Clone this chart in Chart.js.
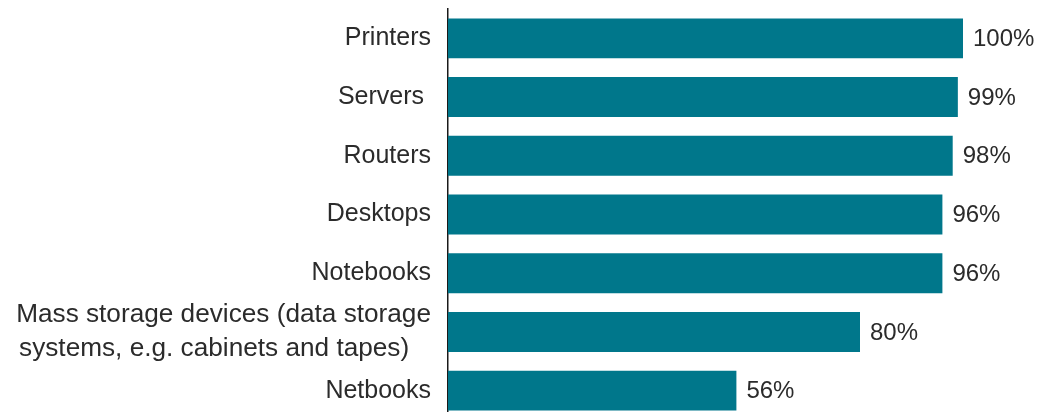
<!DOCTYPE html>
<html>
<head>
<meta charset="utf-8">
<script src="https://cdn.jsdelivr.net/npm/chart.js@4.4.1/dist/chart.umd.min.js"></script>
<style>
  html, body { margin: 0; padding: 0; background: #fff; overflow: hidden; }
  #wrap { position: relative; width: 1042px; height: 420px; }
</style>
</head>
<body>
<div id="wrap"><canvas id="myChart"></canvas></div>
<script>
const categories = [
  'Printers',
  'Servers ',
  'Routers',
  'Desktops',
  'Notebooks',
  ['Mass storage devices (data storage', 'systems, e.g. cabinets and tapes)   '],
  'Netbooks'
]
const shares = [100, 99, 98, 96, 96, 80, 56]

const FONT = 'Liberation Sans, Arial, sans-serif'
const TEXT = '#2b2b2b'

// writes the percentage to the right of each bar
const valueLabels = {
  id: 'valueLabels',
  afterDatasetsDraw (chart) {
    const ctx = chart.ctx
    const meta = chart.getDatasetMeta(0)
    ctx.save()
    ctx.font = '24px ' + FONT
    ctx.fillStyle = TEXT
    ctx.textAlign = 'left'
    ctx.textBaseline = 'middle'
    meta.data.forEach((bar, i) => {
      ctx.fillText(shares[i] + '%', bar.x + 10, bar.y + 1)
    })
    ctx.restore()
  }
}

new Chart(document.getElementById('myChart'), {
  type: 'bar',
  data: {
    labels: categories,
    datasets: [{
      data: shares,
      backgroundColor: '#00778b',
      borderWidth: 0,
      barPercentage: 0.68,
      categoryPercentage: 1
    }]
  },
  options: {
    indexAxis: 'y',
    responsive: true,
    maintainAspectRatio: false,
    animation: false,
    layout: { padding: { top: 9, right: 79, bottom: 0, left: 0 } },
    plugins: {
      legend: { display: false },
      tooltip: { enabled: false }
    },
    scales: {
      x: { display: false, min: 0, max: 100 },
      y: {
        afterFit (scale) {
          scale.width = 448
          scale.paddingTop = 0
          scale.paddingBottom = 0
        },
        grid: { display: true, drawOnChartArea: false, drawTicks: false },
        border: { display: true, color: '#1a1a1a', width: 1.5 },
        ticks: {
          autoSkip: false,
          padding: 17,
          color: TEXT,
          // the two-line label is set a touch larger
          font: (c) => ({
            family: FONT,
            size: Array.isArray(categories[c.index]) ? 26.2 : 25,
            lineHeight: 1.3
          })
        }
      }
    }
  },
  plugins: [valueLabels]
})
</script>
</body>
</html>
